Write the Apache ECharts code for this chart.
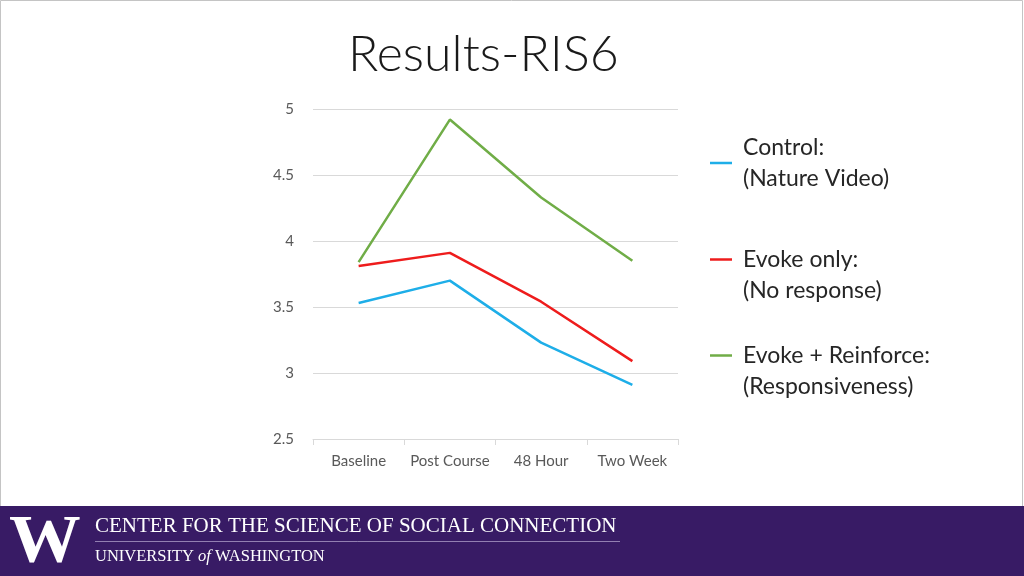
<!DOCTYPE html>
<html>
<head>
<meta charset="utf-8">
<script src="https://cdn.jsdelivr.net/npm/echarts@6/dist/echarts.min.js"></script>
<style>
html,body{margin:0;padding:0;background:#fff;}
#chart{width:1024px;height:576px;}
</style>
</head>
<body>
<div id="chart"></div>
<script>
const categories = ['Baseline', 'Post Course', '48 Hour', 'Two Week'];
const controlValues = [3.53, 3.70, 3.23, 2.91];
const evokeOnlyValues = [3.81, 3.91, 3.54, 3.09];
const evokeReinforceValues = [3.84, 4.92, 4.33, 3.85];
const seriesNames = ['Control:\n(Nature Video)', 'Evoke only:\n(No response)', 'Evoke + Reinforce:\n(Responsiveness)'];
const yTicks = { min: 2.5, max: 5, interval: 0.5 };

const FONT = 'Lato, "Open Sans", sans-serif';
const chart = echarts.init(document.getElementById('chart'));

function legendFor(name, top, padBlank) {
  return {
    data: [name],
    left: 710,
    top: top,
    padding: 0,
    orient: 'vertical',
    selectedMode: false,
    icon: 'rect',
    itemWidth: 22,
    itemHeight: 2.5,
    formatter: padBlank ? '\n{name}' : '{name}',
    textStyle: { fontFamily: FONT, fontSize: 23, color: '#262626', lineHeight: 31, padding: [0, 0, 0, 6] }
  };
}

chart.setOption({
  backgroundColor: '#ffffff',
  animation: false,
  title: {
    text: 'Results-RIS6',
    left: 343,
    top: 25,
    textStyle: { fontFamily: FONT, fontWeight: 300, fontSize: 50, color: '#1a1a1a' }
  },
  legend: [
    legendFor(seriesNames[0], 132, false),
    legendFor(seriesNames[1], 213, true),
    legendFor(seriesNames[2], 309, true)
  ],
  grid: { left: 313, right: 346, top: 109, bottom: 137 },
  xAxis: {
    type: 'category',
    data: categories,
    boundaryGap: true,
    axisLine: { lineStyle: { color: '#d9d9d9', width: 1 } },
    axisTick: { show: true, interval: 0, length: 6, lineStyle: { color: '#d9d9d9' } },
    axisLabel: { interval: 0, fontFamily: FONT, fontSize: 15, color: '#595959', margin: 15 }
  },
  yAxis: {
    type: 'value',
    min: yTicks.min,
    max: yTicks.max,
    interval: yTicks.interval,
    axisLine: { show: false },
    axisTick: { show: false },
    splitLine: { lineStyle: { color: '#d9d9d9', width: 1 } },
    axisLabel: { fontFamily: FONT, fontSize: 15, color: '#595959', margin: 19 }
  },
  series: [
    { name: seriesNames[0], type: 'line', data: controlValues, symbol: 'none', color: '#1eaee8', lineStyle: { width: 2.5, color: '#1eaee8' } },
    { name: seriesNames[1], type: 'line', data: evokeOnlyValues, symbol: 'none', color: '#ee1c1c', lineStyle: { width: 2.5, color: '#ee1c1c' } },
    { name: seriesNames[2], type: 'line', data: evokeReinforceValues, symbol: 'none', color: '#70ad47', lineStyle: { width: 2.5, color: '#70ad47' } }
  ],
  graphic: [
    { type: 'rect', shape: { x: 0.5, y: 0.5, width: 1022, height: 575 }, style: { fill: 'none', stroke: '#c4c4c4', lineWidth: 1 }, z: 100 },
    { type: 'rect', shape: { x: 0, y: 506, width: 1024, height: 70 }, style: { fill: '#381b65' }, z: 101 },
    { type: 'text', x: 9, y: 510, z: 102, style: { text: 'W', fill: '#ffffff', font: 'bold 64px "Liberation Serif", "DejaVu Serif", serif', textAlign: 'left', textVerticalAlign: 'top' }, scaleX: 1.12, scaleY: 1.05 },
    { type: 'text', x: 95, y: 526, z: 102, style: { text: 'CENTER FOR THE SCIENCE OF SOCIAL CONNECTION', fill: '#ffffff', font: '21px "Liberation Serif", "DejaVu Serif", serif', textVerticalAlign: 'middle' }, scaleX: 1.0 },
    { type: 'line', z: 102, shape: { x1: 95, y1: 541.5, x2: 620, y2: 541.5 }, style: { stroke: 'rgba(220,210,240,0.55)', lineWidth: 1 } },
    { type: 'text', x: 95, y: 557, z: 102, style: {
        text: '{n|UNIVERSITY }{i|of}{n| WASHINGTON}', fill: '#ffffff', textVerticalAlign: 'middle',
        rich: {
          n: { font: '16.5px "Liberation Serif", "DejaVu Serif", serif', fill: '#ffffff' },
          i: { font: 'italic 16.5px "Liberation Serif", "DejaVu Serif", serif', fill: '#ffffff' }
        }
      }, scaleX: 1.0 }
  ]
});
</script>
</body>
</html>
